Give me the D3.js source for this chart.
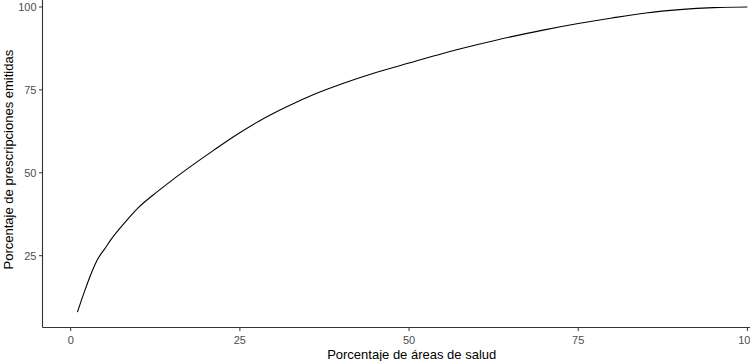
<html>
<head>
<meta charset="utf-8">
<script src="https://cdn.jsdelivr.net/npm/d3@7"></script>
<style>
  body { margin: 0; background: #fff; }
  svg { display: block; font-family: "Liberation Sans", Arial, sans-serif; }
</style>
</head>
<body>
<div id="chart"></div>
<script>
// percentage of health areas (x) vs cumulative percentage of prescriptions (y)
var areasPct = [1, 2, 3, 4, 5, 6, 8, 10, 12, 15, 18, 21, 24, 28, 32, 36, 40, 45, 50, 55, 60, 65, 70, 75, 80, 85, 90, 95, 100];
var prescPct = [8, 14, 19.5, 24, 27, 30, 35, 39.5, 43, 47.8, 52.3, 56.6, 60.8, 65.8, 70, 73.7, 76.8, 80.2, 83.1, 86, 88.6, 91, 93.1, 95, 96.7, 98.2, 99.2, 99.8, 100];
var xTicks = [0, 25, 50, 75, 100];
var yTicks = [25, 50, 75, 100];

var width = 750, height = 361;
var svg = d3.select("#chart").append("svg")
  .attr("width", width)
  .attr("height", height);

// panel is wider/taller than the window, right and top edges are cut off
var x = d3.scaleLinear().domain([0, 100]).range([70.7, 747.4]);
var y = d3.scaleLinear().domain([25, 100]).range([255.7, 7]);
var panelLeft = 42.5, panelBottom = 327.5;
var panelRight = x(104.95), panelTop = y(104.6);

var tickCol = "#4d4d4d";

// axis lines
svg.append("line")
  .attr("x1", panelLeft).attr("x2", panelRight)
  .attr("y1", panelBottom).attr("y2", panelBottom)
  .attr("stroke", "#333").attr("stroke-width", 1.1);
svg.append("line")
  .attr("x1", panelLeft).attr("x2", panelLeft)
  .attr("y1", panelTop).attr("y2", panelBottom)
  .attr("stroke", "#333").attr("stroke-width", 1.1);

// x ticks
var xt = svg.append("g").selectAll("g").data(xTicks).enter().append("g")
  .attr("transform", function (d) { return "translate(" + x(d) + ",0)"; });
xt.append("line")
  .attr("y1", panelBottom).attr("y2", panelBottom + 3.5)
  .attr("stroke", "#333").attr("stroke-width", 1);
xt.append("text")
  .attr("y", panelBottom + 16)
  .attr("text-anchor", "middle")
  .attr("fill", tickCol)
  .style("font-size", "11px")
  .text(function (d) { return d; });

// y ticks
var yt = svg.append("g").selectAll("g").data(yTicks).enter().append("g")
  .attr("transform", function (d) { return "translate(0," + y(d) + ")"; });
yt.append("line")
  .attr("x1", panelLeft - 3.5).attr("x2", panelLeft)
  .attr("stroke", "#333").attr("stroke-width", 1);
yt.append("text")
  .attr("x", panelLeft - 6)
  .attr("dy", "0.35em")
  .attr("text-anchor", "end")
  .attr("fill", tickCol)
  .style("font-size", "11px")
  .text(function (d) { return d; });

// axis titles
svg.append("text")
  .attr("x", (panelLeft + panelRight) / 2)
  .attr("y", 359)
  .attr("text-anchor", "middle")
  .attr("fill", "#000")
  .style("font-size", "13px")
  .text("Porcentaje de áreas de salud");
svg.append("text")
  .attr("transform", "translate(13," + (panelTop + panelBottom) / 2 + ") rotate(-90)")
  .attr("text-anchor", "middle")
  .attr("fill", "#000")
  .style("font-size", "13px")
  .text("Porcentaje de prescripciones emitidas");

// the curve
var pts = areasPct.map(function (v, i) { return [v, prescPct[i]]; });
var line = d3.line()
  .x(function (d) { return x(d[0]); })
  .y(function (d) { return y(d[1]); })
  .curve(d3.curveMonotoneX);
svg.append("path")
  .datum(pts)
  .attr("d", line)
  .attr("fill", "none")
  .attr("stroke", "#000")
  .attr("stroke-width", 1.1);
</script>
</body>
</html>
